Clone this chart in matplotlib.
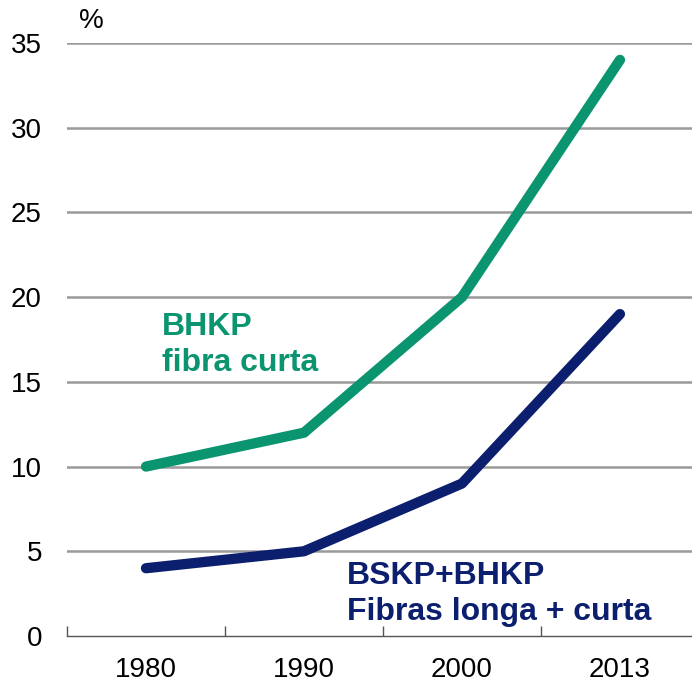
import matplotlib.pyplot as plt

plt.rcParams['font.family'] = ['Liberation Sans', 'DejaVu Sans']

# Dados
anos = ['1980', '1990', '2000', '2013']
bhkp = [10, 12, 20, 34]
bskp_bhkp = [4, 5, 9, 19]

verde = '#0a9470'
azul = '#0c1f6e'

fig = plt.figure(figsize=(6.92, 6.83), dpi=100)
ax = fig.add_axes([0.0968, 0.0688, 0.9032, 0.8683])

x = range(len(anos))
ax.plot(x, bhkp, color=verde, lw=7.4, solid_capstyle='round', solid_joinstyle='round', zorder=3)
ax.plot(x, bskp_bhkp, color=azul, lw=7.4, solid_capstyle='round', solid_joinstyle='round', zorder=3)

ax.set_xlim(-0.5, 3.456)
ax.set_ylim(0, 35)
ax.set_yticks(range(0, 36, 5))
ax.set_xticks([-0.5, 0.5, 1.5, 2.5])
ax.set_xticks(list(x), minor=True)
ax.set_xticklabels([])
ax.set_xticklabels(anos, minor=True)

# Grade horizontal
for v in range(5, 36, 5):
    ax.axhline(v, color='#999999', lw=1.8, zorder=1)

for s in ['top', 'right', 'left']:
    ax.spines[s].set_visible(False)
ax.spines['bottom'].set_color('#555555')
ax.spines['bottom'].set_linewidth(1.0)

ax.tick_params(axis='y', length=0, pad=18, labelsize=20)
ax.tick_params(axis='x', which='major', direction='in', length=7, color='#555555', width=1.0)
ax.tick_params(axis='x', which='minor', length=0, pad=15, labelsize=20)

ax.text(0.02, 1.015, '%', transform=ax.transAxes, fontsize=20, ha='left', va='bottom')

ax.text(0.1, 19.15, 'BHKP\nfibra curta', color=verde, fontsize=23, fontweight='bold',
        ha='left', va='top', linespacing=1.27)
ax.text(1.27, 4.45, 'BSKP+BHKP\nFibras longa + curta', color=azul, fontsize=23, fontweight='bold',
        ha='left', va='top', linespacing=1.27)

fig.savefig('out.png', dpi=100)
